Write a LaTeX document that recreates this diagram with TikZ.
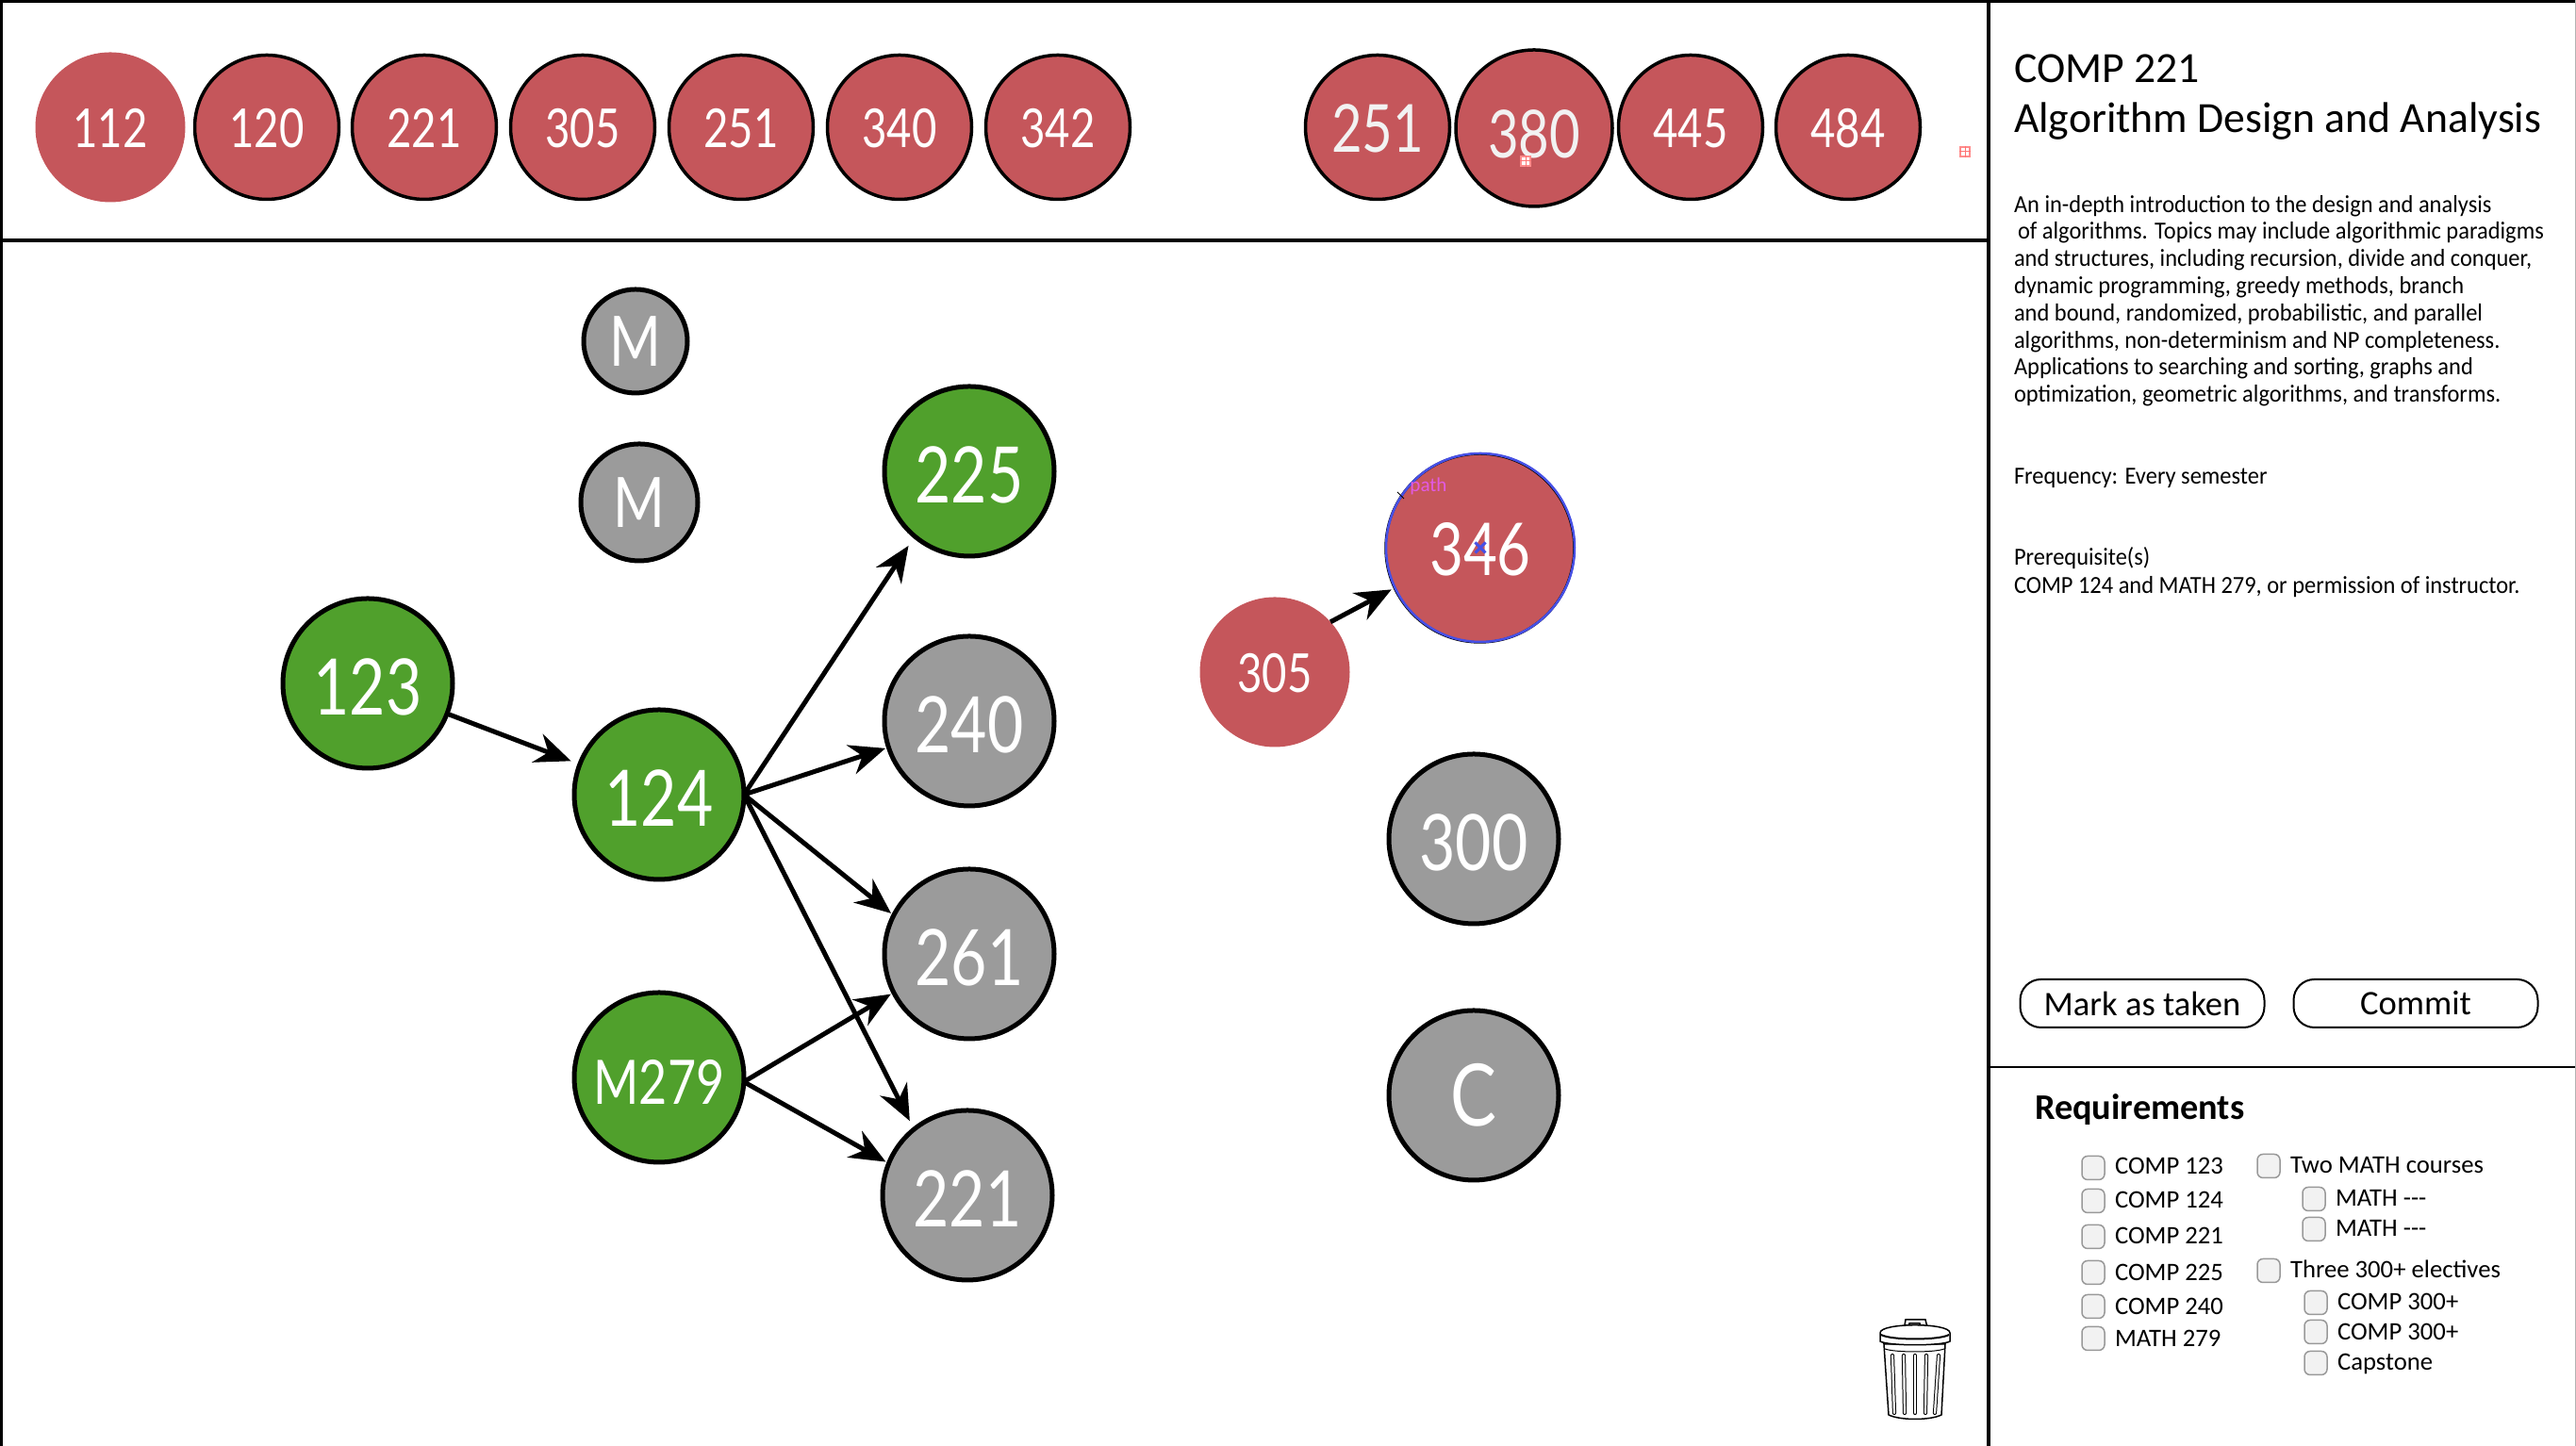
\documentclass[tikz,border=0pt]{standalone}
\usepackage{fontspec}
\setmainfont{Carlito}
\newfontfamily\gillfont[FakeStretch=0.8]{Lato}
\newfontfamily\bodyfont[FakeStretch=0.94]{Carlito}
\usetikzlibrary{positioning,arrows.meta,shapes.misc}
\definecolor{courseRed}{RGB}{197,86,91}
\definecolor{courseGreen}{RGB}{80,160,44}
\definecolor{courseGray}{RGB}{155,155,155}
\definecolor{pathBlue}{RGB}{70,80,230}
\definecolor{pathPink}{RGB}{226,90,226}

\begin{document}
\begin{tikzpicture}[
  course/.style={circle, draw, line width=0.5mm, outer sep=0pt, inner sep=0pt, minimum size=1.8cm, text=white, text height=19pt, font=\gillfont\fontsize{23.5}{26}\selectfont},
  taken/.style={course, fill=courseGreen},
  open/.style={course, fill=courseGray},
  tray/.style={course, fill=courseRed, line width=0.35mm, minimum size=1.53cm, text height=12.5pt, font=\gillfont\fontsize{16.2}{19}\selectfont},
  arrow/.style={-{Stealth[length=3.8mm,width=3.2mm]}, line width=0.5mm, shorten >=1pt},
  frame/.style={line width=0.4mm},
  label/.style={anchor=base west, inner sep=0pt, outer sep=0pt, font=\fontsize{7.6}{10}\selectfont},
  info/.style={label, font=\bodyfont\fontsize{7.4}{8.2}\selectfont},
  check/.style={draw=gray!80, fill=gray!10, line width=0.15mm, rounded corners=0.6mm, minimum width=0.24cm, minimum height=0.25cm, inner sep=0pt},
  action/.style={draw, line width=0.2mm, rounded corners=2.2mm, minimum width=2.59cm, minimum height=0.51cm, inner sep=0pt, font=\fontsize{10.4}{13}\selectfont},
  selbox/.style={draw=red!45, fill=white, line width=0.15mm, minimum size=0.1cm, inner sep=0pt},
  slot/.style={double=white, double distance=0.22mm, line width=0.1mm, line cap=round}
]
\useasboundingbox (0,0) rectangle (27.32,15.34);

% panels
\draw[frame] (0,15.325) -- (27.32,15.325);
\draw[frame] (0.015,0) -- (0.015,15.34);
\draw[frame] (0,12.79) -- (21.08,12.79);
\draw[frame] (21.09,0) -- (21.09,15.34);
\draw[frame, line width=0.25mm] (21.09,4.02) -- (27.32,4.02);
\draw[gray!60, line width=0.1mm] (27.31,0) -- (27.31,15.34);

% top row
\node[tray, draw=none, minimum size=1.59cm] (t112) at (1.17,13.99) {112};
\node[tray] (t120) at (2.83,13.99) {120};
\node[tray] (t221) at (4.50,13.99) {221};
\node[tray] (t305) at (6.18,13.99) {305};
\node[tray] (t251) at (7.86,13.99) {251};
\node[tray] (t340) at (9.54,13.99) {340};
\node[tray] (t342) at (11.22,13.99) {342};

\node[tray, text=white!95!black, font=\gillfont\fontsize{20}{24}\selectfont, text height=15pt] (s251) at (14.61,13.99) {251};
\node[tray, minimum size=1.66cm, text=white!95!black, font=\gillfont\fontsize{20}{24}\selectfont, text height=18pt] (s380) at (16.27,13.98) {380};
\node[tray] (s445) at (17.93,13.99) {445};
\node[tray] (s484) at (19.60,13.99) {484};

\node[selbox] (sel1) at (16.18,13.63) {};
\node[selbox] (sel2) at (20.84,13.73) {};
\draw[red!55, line width=0.1mm] (sel1.north) -- (sel1.south) (sel1.west) -- (sel1.east);
\draw[red!55, line width=0.1mm] (sel2.north) -- (sel2.south) (sel2.west) -- (sel2.east);

% graph
\node[open, minimum size=1.1cm, text height=15pt, font=\gillfont\fontsize{21}{25}\selectfont] (m1) at (6.74,11.72) {M};
\node[open, minimum size=1.24cm, text height=15pt, font=\gillfont\fontsize{21}{25}\selectfont] (m2) at (6.78,10.01) {M};
\node[taken] (c123) at (3.90,8.09) {123};
\node[taken] (c124) at (6.99,6.91) {124};
\node[taken, text height=16pt, font=\gillfont\fontsize{18.5}{22}\selectfont] (c279) at (6.99,3.91) {M279};
\node[taken] (c225) at (10.28,10.34) {225};
\node[open] (c240) at (10.28,7.69) {240};
\node[open] (c261) at (10.28,5.22) {261};
\node[open] (c221) at (10.26,2.66) {221};
\node[tray, draw=none, minimum size=1.59cm] (c305) at (13.52,8.21) {305};
\node[course, fill=courseRed, minimum size=2cm, line width=0.25mm] (c346) at (15.695,9.525) {};
\node[circle, draw=pathBlue, line width=0.25mm, minimum size=2cm, inner sep=0pt, text=white, text height=17pt, font=\gillfont\fontsize{22}{25}\selectfont] (c346path) at (15.70,9.53) {346};
\node[open] (c300) at (15.63,6.44) {300};
\node[open, font=\gillfont\fontsize{26}{30}\selectfont] (cC) at (15.63,3.72) {C};

\node[inner sep=0pt, text=pathPink, font=\fontsize{6}{7}\selectfont] (pathtag) at (15.15,10.18) {path};
\node[cross out, draw=pathBlue, line width=0.3mm, minimum size=0.08cm, inner sep=0pt] (c346x) at (15.70,9.53) {};
\coordinate (tick1) at (14.82,10.12);
\coordinate (tick2) at (14.89,10.05);
\draw[line width=0.1mm] (tick1) -- (tick2);

\draw[arrow, shorten >=1mm] (c123) -- (c124);
\draw[arrow, shorten >=1.2mm] (c124.east) -- (c225.230);
\draw[arrow] (c124.east) -- (c240.198);
\draw[arrow] (c124.east) -- (c261.153);
\draw[arrow, shorten >=1mm] (c124.east) -- (c221.129);
\draw[arrow] (c279.-3) -- (c261.207);
\draw[arrow] (c279.-3) -- (c221.158);
\draw[arrow] (c305.42) -- (c346.205);

% trash can
\draw[line width=0.15mm, fill=white] (20.19,1.22) -- (20.21,1.34) -- (20.42,1.34) -- (20.45,1.22) -- (20.38,1.22) -- (20.36,1.30) -- (20.25,1.30) -- (20.24,1.22) -- cycle;
\draw[line width=0.15mm, fill=white] (19.98,1.08) -- (20.03,0.33) .. controls (20.15,0.27) and (20.47,0.27) .. (20.59,0.33) -- (20.63,1.08) -- cycle;
\draw[line width=0.15mm, fill=white] (19.94,1.20) .. controls (19.94,1.31) and (20.68,1.31) .. (20.68,1.20) -- (20.68,1.11) .. controls (20.60,1.06) and (20.02,1.06) .. (19.94,1.11) -- cycle;
\draw[line width=0.2mm] (19.95,1.18) .. controls (20.05,1.12) and (20.57,1.12) .. (20.67,1.18);
\draw[line width=0.1mm] (19.99,1.03) .. controls (20.10,0.99) and (20.52,0.99) .. (20.62,1.03);
\draw[slot] (20.07,0.96) -- (20.09,0.35);
\draw[slot] (20.19,0.96) -- (20.20,0.35);
\draw[slot] (20.31,0.96) -- (20.31,0.35);
\draw[slot] (20.43,0.96) -- (20.42,0.35);
\draw[slot] (20.56,0.96) -- (20.52,0.35);

% course info
\node[label, font=\fontsize{13}{17}\selectfont] (title1) at (21.36,14.46) {COMP 221};
\node[label, font=\fontsize{13}{17}\selectfont] (title2) at (21.36,13.93) {Algorithm Design and Analysis};
\node[info, anchor=north west, align=left] (descr) at (21.36,13.27) {An in-depth introduction to the design and analysis\\
\hspace{0.4mm}of algorithms. Topics may include algorithmic paradigms\\
and structures, including recursion, divide and conquer,\\
dynamic programming, greedy methods, branch\\
and bound, randomized, probabilistic, and parallel\\
algorithms, non-determinism and NP completeness.\\
Applications to searching and sorting, graphs and\\
optimization, geometric algorithms, and transforms.};
\node[info] (freq) at (21.36,10.20) {Frequency: Every semester};
\node[info] (prereq1) at (21.36,9.34) {Prerequisite(s)};
\node[info] (prereq2) at (21.36,9.04) {COMP 124 and MATH 279, or permission of instructor.};

\node[action] (taken) at (22.72,4.695) {Mark as taken};
\node[action] (commit) at (25.62,4.695) {Commit};

% requirements
\node[label, font=\bfseries\fontsize{10.9}{13}\selectfont] (reqs) at (21.58,3.46) {Requirements};

\node[check] (b123) at (22.20,2.95) {};
\node[check] (b124) at (22.20,2.60) {};
\node[check] (b221) at (22.20,2.22) {};
\node[check] (b225) at (22.20,1.84) {};
\node[check] (b240) at (22.20,1.48) {};
\node[check] (b279) at (22.20,1.14) {};
\node[label] (l123) at (22.43,2.88) {COMP 123};
\node[label] (l124) at (22.43,2.52) {COMP 124};
\node[label] (l221) at (22.43,2.14) {COMP 221};
\node[label] (l225) at (22.43,1.75) {COMP 225};
\node[label] (l240) at (22.43,1.39) {COMP 240};
\node[label] (l279) at (22.43,1.05) {MATH 279};

\node[check] (bmath) at (24.06,2.97) {};
\node[check] (bm1) at (24.54,2.62) {};
\node[check] (bm2) at (24.54,2.30) {};
\node[check] (belec) at (24.06,1.86) {};
\node[check] (be1) at (24.56,1.52) {};
\node[check] (be2) at (24.56,1.21) {};
\node[check] (be3) at (24.56,0.88) {};
\node[label] (lmath) at (24.29,2.89) {Two MATH courses};
\node[label] (lm1) at (24.77,2.54) {MATH -{}-{}-};
\node[label] (lm2) at (24.77,2.22) {MATH -{}-{}-};
\node[label] (lelec) at (24.29,1.78) {Three 300+ electives};
\node[label] (le1) at (24.79,1.44) {COMP 300+};
\node[label] (le2) at (24.79,1.12) {COMP 300+};
\node[label] (le3) at (24.79,0.80) {Capstone};
\end{tikzpicture}
\end{document}
